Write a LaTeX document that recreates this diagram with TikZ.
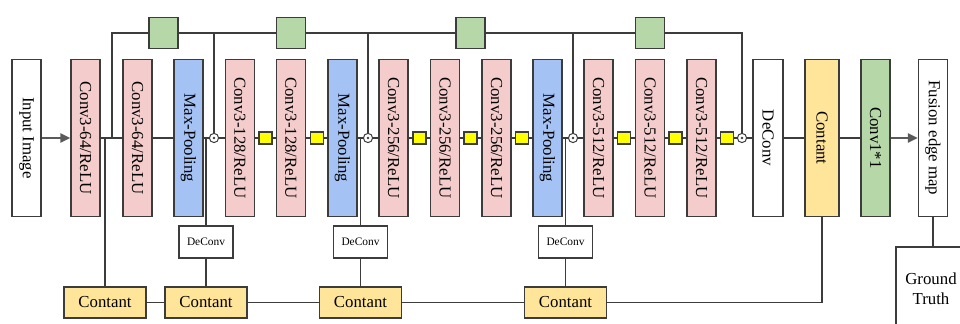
\documentclass[tikz,border=0pt]{standalone}
\usepackage{fontspec}
\setmainfont{Liberation Serif}
\usetikzlibrary{arrows.meta}

\definecolor{convpink}{RGB}{244,204,204}
\definecolor{poolblue}{RGB}{164,194,244}
\definecolor{catyellow}{RGB}{255,229,153}
\definecolor{convgreen}{RGB}{182,215,168}
\definecolor{bnyellow}{RGB}{255,255,0}
\definecolor{linegray}{RGB}{60,60,60}
\definecolor{arrowgray}{RGB}{90,90,90}

\tikzset{
  layer/.style={draw=linegray, line width=0.7pt, rotate=-90, minimum width=78.5pt,
    minimum height=14.5pt, inner sep=0pt, font=\fontsize{8.4}{10}\selectfont},
  plain/.style={layer, fill=white},
  conv/.style={layer, fill=convpink},
  pool/.style={layer, fill=poolblue},
  bn/.style={draw=linegray, line width=0.7pt, fill=bnyellow, minimum width=6.5pt,
    minimum height=6pt, inner sep=0pt},
  skip/.style={draw=linegray, line width=0.7pt, fill=convgreen, minimum width=14.5pt,
    minimum height=15.5pt, inner sep=0pt},
  upbox/.style={draw=linegray, line width=0.7pt, fill=white, minimum width=27pt,
    minimum height=16pt, inner sep=0pt, font=\fontsize{5.7}{7}\selectfont},
  catbox/.style={draw=linegray, line width=0.7pt, fill=catyellow, minimum width=41pt,
    minimum height=15.5pt, inner sep=0pt, font=\fontsize{8.4}{10}\selectfont},
  sumnode/.style={circle, draw=linegray, fill=white, line width=0.5pt, minimum size=4.6pt,
    inner sep=0pt, path picture={\fill[linegray] (path picture bounding box.center) circle (0.65pt);}},
  wire/.style={draw=linegray, line width=0.7pt},
  flow/.style={draw=arrowgray, line width=1.2pt, -{Triangle[length=5pt, width=4.5pt]}}
}

\begin{document}
\begin{tikzpicture}[x=0.5pt, y=-0.5pt]
  \clip (0,0) rectangle (960,324);

  \node[plain] (inp) at (26.5,138) {Input Image};
  \node[conv] (c1) at (85.5,138) {Conv3-64/ReLU};
  \node[conv] (c2) at (137.5,138) {Conv3-64/ReLU};
  \node[pool] (p1) at (188.5,138) {Max-Pooling};
  \node[sumnode] (o1) at (214,138) {};
  \node[conv] (c3) at (240,138) {Conv3-128/ReLU};
  \node[bn] (y1) at (265.5,138) {};
  \node[conv] (c4) at (291,138) {Conv3-128/ReLU};
  \node[bn] (y2) at (317,138) {};
  \node[pool] (p2) at (342.5,138) {Max-Pooling};
  \node[sumnode] (o2) at (368,138) {};
  \node[conv] (c5) at (393.5,138) {Conv3-256/ReLU};
  \node[bn] (y3) at (419.5,138) {};
  \node[conv] (c6) at (445,138) {Conv3-256/ReLU};
  \node[bn] (y4) at (470.5,138) {};
  \node[conv] (c7) at (496.5,138) {Conv3-256/ReLU};
  \node[bn] (y5) at (522,138) {};
  \node[pool] (p3) at (547.5,138) {Max-Pooling};
  \node[sumnode] (o3) at (573,138) {};
  \node[conv] (c8) at (598.5,138) {Conv3-512/ReLU};
  \node[bn] (y6) at (624,138) {};
  \node[conv] (c9) at (650,138) {Conv3-512/ReLU};
  \node[bn] (y7) at (675.5,138) {};
  \node[conv] (c10) at (701.5,138) {Conv3-512/ReLU};
  \node[bn] (y8) at (727,138) {};
  \node[sumnode] (o4) at (742,138) {};
  \node[plain, minimum height=15pt] (dc) at (768,138) {DeConv};
  \node[layer, fill=catyellow, minimum height=17pt] (ct) at (822,138) {Contant};
  \node[layer, fill=convgreen] (cv) at (875.5,138) {Conv1*1};
  \node[plain] (out) at (933,138) {Fusion edge map};
  \node[draw=linegray, line width=0.7pt, fill=white, minimum width=35pt, minimum height=42pt,
    inner sep=0pt, align=center, font=\fontsize{8.4}{10}\selectfont] (gt) at (931,289) {Ground\\Truth};

  % skip branch on top
  \node[skip] (g1) at (163.5,33) {};
  \node[skip] (g2) at (291,33) {};
  \node[skip] (g3) at (470.5,33) {};
  \node[skip] (g4) at (650,33) {};

  \node[upbox] (d1) at (206,242) {DeConv};
  \node[upbox] (d2) at (360.5,242) {DeConv};
  \node[upbox] (d3) at (565.5,242) {DeConv};

  \node[catbox] (b1) at (105,302.5) {Contant};
  \node[catbox] (b2) at (206,302.5) {Contant};
  \node[catbox] (b3) at (360.5,302.5) {Contant};
  \node[catbox] (b4) at (565.5,302.5) {Contant};

  \draw[flow] (inp) -- (c1);
  \draw[wire] (c1) -- (c2);
  \draw[wire] (c2) -- (p1);
  \draw[wire] (p1) -- (o1);
  \draw[wire] (o1) -- (c3);
  \draw[wire] (c3) -- (y1);
  \draw[wire] (y1) -- (c4);
  \draw[wire] (c4) -- (y2);
  \draw[wire] (y2) -- (p2);
  \draw[wire] (p2) -- (o2);
  \draw[wire] (o2) -- (c5);
  \draw[wire] (c5) -- (y3);
  \draw[wire] (y3) -- (c6);
  \draw[wire] (c6) -- (y4);
  \draw[wire] (y4) -- (c7);
  \draw[wire] (c7) -- (y5);
  \draw[wire] (y5) -- (p3);
  \draw[wire] (p3) -- (o3);
  \draw[wire] (o3) -- (c8);
  \draw[wire] (c8) -- (y6);
  \draw[wire] (y6) -- (c9);
  \draw[wire] (c9) -- (y7);
  \draw[wire] (y7) -- (c10);
  \draw[wire] (c10) -- (y8);
  \draw[wire] (y8) -- (o4);
  \draw[wire] (o4) -- (dc);
  \draw[wire] (dc) -- (ct);
  \draw[wire] (ct) -- (cv);
  \draw[flow] (cv) -- (out);
  \draw[wire] (out) -- (out |- gt.north);

  \coordinate (t0) at (112,138);
  \draw[wire] (t0) |- (g1);
  \draw[wire] (g1) -- (g2);
  \draw[wire] (g2) -- (g3);
  \draw[wire] (g3) -- (g4);
  \draw[wire] (g4) -| (o4);
  \draw[wire] (o1 |- g1) -- (o1);
  \draw[wire] (o2 |- g1) -- (o2);
  \draw[wire] (o3 |- g1) -- (o3);

  \draw[wire] (b1 |- c1) -- (b1);
  \draw[wire] (d1 |- p1) -- (d1);
  \draw[wire] (d1) -- (b2);
  \draw[wire] (d2 |- p2) -- (d2);
  \draw[wire] (d2) -- (b3);
  \draw[wire] (d3 |- p3) -- (d3);
  \draw[wire] (d3) -- (b4);
  \draw[wire] (b1) -- (b2);
  \draw[wire] (b2) -- (b3);
  \draw[wire] (b3) -- (b4);
  \draw[wire] (b4) -| (ct);
\end{tikzpicture}
\end{document}
